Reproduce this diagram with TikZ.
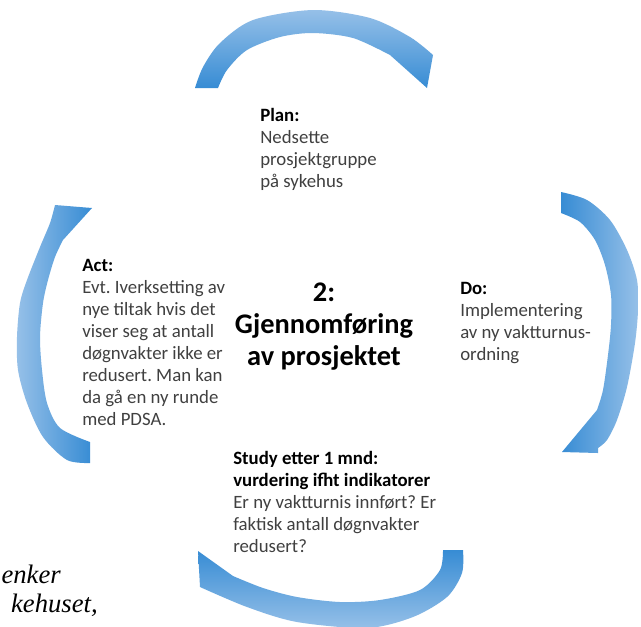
\documentclass[tikz,border=0pt]{standalone}
\usepackage{fontspec}
\setmainfont{Carlito}
\newfontfamily\serifit{Liberation Serif}
\definecolor{arrowdark}{RGB}{55, 140, 212}
\definecolor{arrowlight}{RGB}{150, 192, 232}
\definecolor{bodygray}{RGB}{64, 64, 64}
\frenchspacing

\begin{document}
\begin{tikzpicture}[
  x=0.75pt, y=-0.75pt,
  stepnote/.style={
    anchor=base west,
    align=left,
    inner sep=0pt,
    text=bodygray,
    font=\fontsize{14.1}{16.5}\selectfont,
  },
  centretitle/.style={
    anchor=base,
    align=center,
    inner sep=0pt,
    font=\bfseries\fontsize{21.3}{24}\selectfont,
  },
  cutnote/.style={
    anchor=base east,
    inner sep=0pt,
    font=\serifit\itshape\fontsize{20}{22}\selectfont,
  }
]

  \useasboundingbox (0,0) rectangle (641,626);
  \fill[white] (0,0) rectangle (641,626);
  \clip (0,0) rectangle (641,626);

  % === Four curved arrows of the cycle ===
  % PLAN arrow (top)
  \shade[top color=arrowlight, bottom color=arrowdark]
    plot[smooth] coordinates {(195,88) (203,67) (220,43) (253,20) (313,10) (370,18) (410,37) (433,55)}
    -- (427,88)
    -- plot[smooth] coordinates {(390,55) (353,38) (313,33) (280,37) (247,50) (227,70) (218,88)}
    -- cycle;

  % DO arrow (right)
  \shade[left color=arrowdark, right color=arrowlight]
    plot[smooth] coordinates {(561,192) (587,200) (610,220) (627,250) (637,280) (638,310) (635,343) (627,387) (617,420) (607,440) (598,448)}
    -- (598,453) -- (562,452)
    -- plot[smooth] coordinates {(597,410) (603,390) (608,355) (611,325) (611,295) (605,265) (595,240) (580,222) (561,213)}
    -- cycle;

  % STUDY arrow (bottom)
  \shade[top color=arrowdark, bottom color=arrowlight]
    plot[smooth] coordinates {(463,550) (462,573) (447,597) (413,617) (367,628) (297,622) (247,607) (200,587)}
    -- (198,551)
    -- plot[smooth] coordinates {(233,576) (263,588) (297,597) (340,602) (380,600) (420,590) (440,570) (443,550)}
    -- cycle;

  % ACT arrow (left)
  \shade[left color=arrowlight, right color=arrowdark]
    plot[smooth] coordinates {(90,463) (67,460) (43,437) (27,403) (18,370) (17,337) (20,303) (27,280) (40,247) (50,223) (55,205)}
    -- (92,208)
    -- plot[smooth] coordinates {(63,240) (55,257) (48,280) (43,303) (40,337) (42,370) (47,403) (60,428) (90,442)}
    -- cycle;

  % === Texts (anchored at the baseline of the last line) ===
  \node[centretitle] (title) at (324,365) {2:\\ Gjennomføring\\ av prosjektet};

  \node[stepnote] (plan) at (260,187)
    {\textcolor{black}{\bfseries Plan:}\\ Nedsette\\ prosjektgruppe\\ på sykehus};
  \node[stepnote] (do) at (460,360)
    {\textcolor{black}{\bfseries Do:}\\ Implementering\\ av ny vaktturnus-\\ ordning};
  \node[stepnote] (study) at (233,552)
    {\textcolor{black}{\bfseries Study etter 1 mnd:}\\ \textcolor{black}{\bfseries vurdering ifht indikatorer}\\
     Er ny vaktturnis innført? Er\\ faktisk antall døgnvakter\\ redusert?};
  \node[stepnote] (act) at (82,425)
    {\textcolor{black}{\bfseries Act:}\\ Evt. Iverksetting av\\ nye tiltak hvis det\\ viser seg at antall\\
     døgnvakter ikke er\\ redusert. Man kan\\ da gå en ny runde\\ med PDSA.};

  % Loose text at the lower left edge
  \node[cutnote] (cut-a) at (61,583) {enker};
  \node[cutnote] (cut-b) at (98,612) {kehuset,};

\end{tikzpicture}
\end{document}
